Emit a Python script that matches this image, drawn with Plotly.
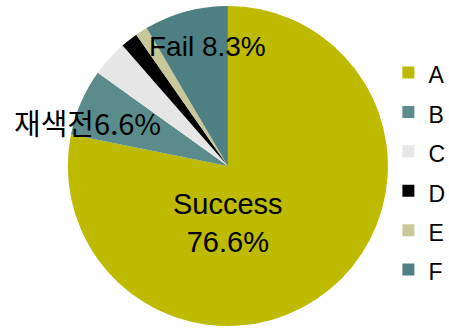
import plotly.graph_objects as go

categories = ["A", "B", "C", "D", "E", "F"]
values = [76.6, 6.6, 3.6, 1.7, 1.2, 8.3]
colors = ["#BDBA00", "#5B8B8A", "#E6E6E6", "#000000", "#C9C89A", "#4E7F82"]
label_texts = ["Success<br>76.6%", "재색전6.6%", "", "", "", "Fail 8.3%"]

# legend labels shown a bit smaller than the legend font, to keep the wide row spacing
legend_labels = ["<span style='font-size:23px'>%s</span>" % c for c in categories]

fig = go.Figure()
fig.add_trace(go.Pie(
    labels=legend_labels,
    values=values,
    marker=dict(colors=colors, line=dict(width=0)),
    sort=False,
    direction="clockwise",
    rotation=0,
    textinfo="none",
    hoverinfo="percent",
    domain=dict(x=[0.151, 0.864], y=[0.012, 0.982]),
    showlegend=True,
))

font_main = "Liberation Sans, Arial, sans-serif"
font_kr = "Noto Sans CJK KR, Liberation Sans, sans-serif"

fig.add_annotation(x=0.508, y=0.324, xref="paper", yref="paper",
                   xanchor="center", yanchor="middle",
                   text=label_texts[0], showarrow=False,
                   font=dict(family=font_main, size=29, color="#000000"))
fig.add_annotation(x=0.195, y=0.63, xref="paper", yref="paper",
                   xanchor="center", yanchor="middle",
                   text=label_texts[1], showarrow=False,
                   font=dict(family=font_kr, size=29, color="#000000"))
fig.add_annotation(x=0.463, y=0.858, xref="paper", yref="paper",
                   xanchor="center", yanchor="middle",
                   text=label_texts[5], showarrow=False,
                   font=dict(family=font_main, size=28, color="#000000"))

fig.update_layout(
    width=449, height=330,
    margin=dict(l=0, r=0, t=0, b=0, autoexpand=False),
    paper_bgcolor="white",
    plot_bgcolor="white",
    legend=dict(
        x=0.865, y=0.855, xanchor="left", yanchor="top",
        font=dict(family=font_main, size=28, color="#000000"),
        itemwidth=30,
        tracegroupgap=0,
        bgcolor="rgba(0,0,0,0)",
    ),
)

fig.write_html("out.html")
